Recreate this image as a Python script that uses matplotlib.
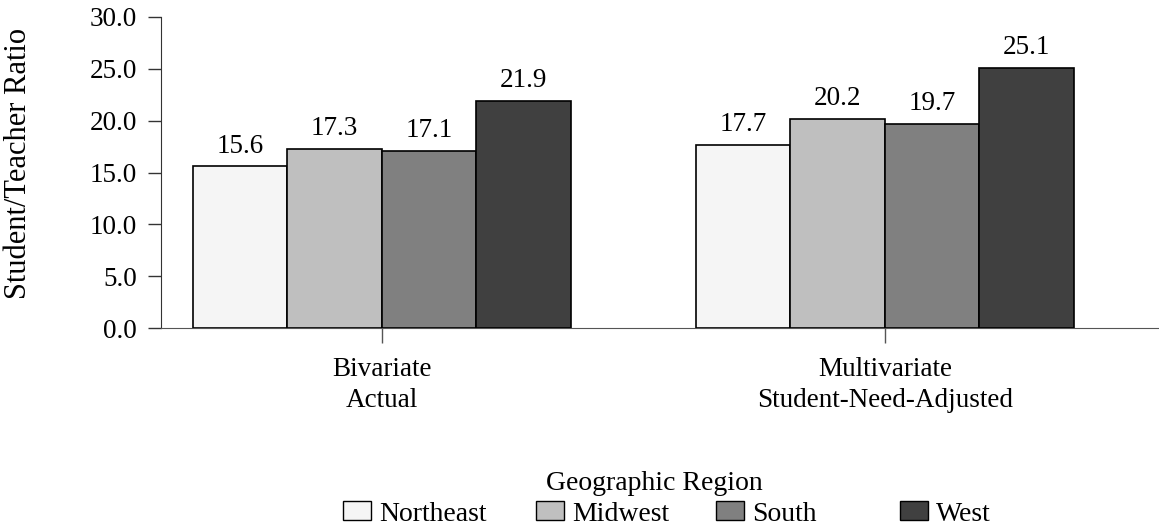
import matplotlib
matplotlib.use("Agg")
import matplotlib.pyplot as plt
import numpy as np
from matplotlib.patches import Patch

categories = ["Bivariate\nActual", "Multivariate\nStudent-Need-Adjusted"]
regions = ["Northeast", "Midwest", "South", "West"]
values = {
    "Northeast": [15.6, 17.7],
    "Midwest": [17.3, 20.2],
    "South": [17.1, 19.7],
    "West": [21.9, 25.1],
}
colors = ["#f5f5f5", "#bfbfbf", "#808080", "#404040"]
yticks = [0, 5, 10, 15, 20, 25, 30]

plt.rcParams['font.family'] = ['Liberation Serif', 'DejaVu Serif']

fig = plt.figure(figsize=(11.59, 5.29), dpi=100)
ax = fig.add_axes([161/1159, 1-328/529, 1-161/1159, (328-17)/529])

x = np.arange(len(categories))
w = 0.188
for i, (reg, col) in enumerate(zip(regions, colors)):
    offs = (i - 1.5) * w
    bars = ax.bar(x + offs, values[reg], width=w, color=col, edgecolor="black",
                  linewidth=1.2, zorder=3)
    for b, v in zip(bars, values[reg]):
        ax.text(b.get_x() + b.get_width()/2, v + 0.75, f"{v:.1f}",
                ha="center", va="bottom", fontsize=19.5)

ax.set_xlim(-0.439, 1.545)
ax.set_ylim(0, 30)
ax.set_yticks(yticks)
ax.set_yticklabels([f"{t:.1f}" for t in yticks], fontsize=19.5)
ax.set_xticks(x)
ax.set_xticklabels(categories, fontsize=19.5, linespacing=1.3)
ax.tick_params(axis="y", direction="out", length=9.4, width=1, color="#333333", pad=8)
ax.tick_params(axis="x", direction="out", length=10.8, width=1, color="#555555", pad=10)
ax.spines["top"].set_visible(False)
ax.spines["right"].set_visible(False)
ax.spines["left"].set_color("#333333")
ax.spines["bottom"].set_color("#555555")
ax.set_ylabel("Student/Teacher Ratio", fontsize=22)
ax.yaxis.set_label_coords((33-161)/998, (328-163)/311)

# legend title
fig.text(654/1159, 1-484/529, "Geographic Region", ha="center", va="center", fontsize=20)
# legend entries placed at the reference's positions
entry_x = [343, 536, 716, 900]
for reg, col, ex in zip(regions, colors, entry_x):
    h = Patch(facecolor=col, edgecolor="black", label=reg)
    lg = fig.legend(handles=[h], loc="center left", bbox_to_anchor=(ex/1159, 1-514/529),
                    frameon=False, fontsize=20, handlelength=1.0, handleheight=0.65,
                    handletextpad=0.3, borderpad=0, borderaxespad=0)

fig.savefig("out.png", dpi=100)
